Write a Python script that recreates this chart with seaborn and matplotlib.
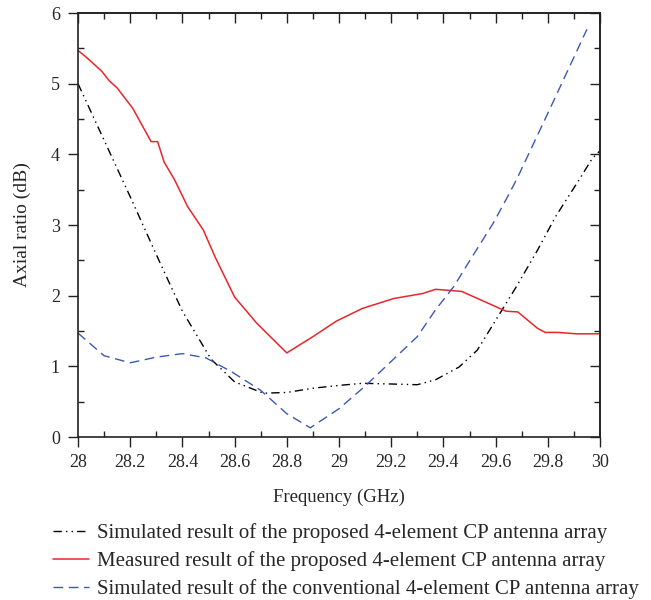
import matplotlib
matplotlib.use("Agg")
import matplotlib.pyplot as plt
from matplotlib.ticker import MultipleLocator, NullFormatter
import pandas as pd
import seaborn as sns

# Simulated axial ratio, proposed 4-element CP array
freq_sim_prop = [28.0, 28.1, 28.2, 28.31, 28.4, 28.51, 28.6, 28.71, 28.8, 28.9, 29.0,
                 29.09, 29.2, 29.3, 29.37, 29.46, 29.53, 29.6, 29.68, 29.76, 29.83,
                 29.92, 29.97, 30.0]
ar_sim_prop = [5.0, 4.2, 3.4, 2.5, 1.78, 1.1, 0.78, 0.62, 0.63, 0.69, 0.73,
               0.76, 0.75, 0.74, 0.81, 0.99, 1.23, 1.65, 2.13, 2.64, 3.12,
               3.64, 3.94, 4.05]

# Measured axial ratio, proposed 4-element CP array
freq_meas = [28.0, 28.03, 28.09, 28.12, 28.15, 28.21, 28.28, 28.305, 28.33, 28.37,
             28.42, 28.48, 28.525, 28.6, 28.685, 28.8, 28.9, 28.99, 29.09, 29.21,
             29.32, 29.37, 29.47, 29.64, 29.685, 29.76, 29.79, 29.84, 29.91, 30.0]
ar_meas = [5.47, 5.38, 5.18, 5.04, 4.94, 4.65, 4.18, 4.18, 3.89, 3.64,
           3.26, 2.93, 2.55, 1.98, 1.61, 1.19, 1.42, 1.64, 1.82, 1.96,
           2.03, 2.09, 2.06, 1.78, 1.77, 1.54, 1.48, 1.48, 1.46, 1.46]

# Simulated axial ratio, conventional 4-element CP array
freq_sim_conv = [28.0, 28.1, 28.2, 28.3, 28.4, 28.49, 28.59, 28.7, 28.8, 28.89,
                 29.0, 29.1, 29.2, 29.3, 29.37, 29.44, 29.51, 29.59, 29.64, 29.68,
                 29.8, 29.95]
ar_sim_conv = [1.47, 1.15, 1.05, 1.13, 1.18, 1.12, 0.92, 0.66, 0.33, 0.13,
               0.4, 0.72, 1.07, 1.42, 1.8, 2.13, 2.55, 3.02, 3.36, 3.64,
               4.58, 5.77]

x_ticks = [28.0, 28.2, 28.4, 28.6, 28.8, 29.0, 29.2, 29.4, 29.6, 29.8, 30.0]
x_tick_labels = ["28", "28.2", "28.4", "28.6", "28.8", "29", "29.2",
                 "29.4", "29.6", "29.8", "30"]

labels = [
    "Simulated result of the proposed 4-element CP antenna array",
    "Measured result of the proposed 4-element CP antenna array",
    "Simulated result of the conventional 4-element CP antenna array",
]

sns.set_style("ticks")
plt.rcParams["font.family"] = ["Liberation Serif", "DejaVu Serif"]

fig = plt.figure(figsize=(6.51, 6.0), dpi=100)
ax = fig.add_axes([78 / 651, 1 - 437 / 600, 522 / 651, 424 / 600])

df1 = pd.DataFrame({"f": freq_sim_prop, "ar": ar_sim_prop})
df2 = pd.DataFrame({"f": freq_meas, "ar": ar_meas})
df3 = pd.DataFrame({"f": freq_sim_conv, "ar": ar_sim_conv})

sns.lineplot(data=df1, x="f", y="ar", ax=ax, color="black", lw=1.0,
             label=labels[0], sort=False)
ax.lines[-1].set_dashes([6, 3, 1, 3, 1, 3])
sns.lineplot(data=df2, x="f", y="ar", ax=ax, color="#e8262a", lw=1.1,
             label=labels[1], sort=False)
sns.lineplot(data=df3, x="f", y="ar", ax=ax, color="#3a5bb5", lw=1.0,
             label=labels[2], sort=False)
ax.lines[-1].set_dashes([7, 4])

ax.set_xlim(28, 30)
ax.set_ylim(0, 6)
ax.set_xticks(x_ticks)
ax.set_xticklabels(x_tick_labels)
ax.xaxis.set_minor_locator(MultipleLocator(0.1))
ax.yaxis.set_major_locator(MultipleLocator(1))
ax.yaxis.set_minor_locator(MultipleLocator(0.5))

# bottom/left: major ticks outward, minor ticks inward
ax.tick_params(which="major", direction="out", length=7, width=1.0,
               color="#222222", labelsize=13, pad=5)
ax.tick_params(which="minor", direction="in", length=4, width=1.0,
               color="#222222")
ax.tick_params(axis="y", which="major", pad=6)

# top/right: all ticks point inward, no labels
top = ax.secondary_xaxis("top")
top.set_xticks(x_ticks)
top.xaxis.set_minor_locator(MultipleLocator(0.1))
top.xaxis.set_major_formatter(NullFormatter())
top.tick_params(which="major", direction="in", length=7, width=1.0, color="#222222")
top.tick_params(which="minor", direction="in", length=4, width=1.0, color="#222222")
right = ax.secondary_yaxis("right")
right.yaxis.set_major_locator(MultipleLocator(1))
right.yaxis.set_minor_locator(MultipleLocator(0.5))
right.yaxis.set_major_formatter(NullFormatter())
right.tick_params(which="major", direction="in", length=7, width=1.0, color="#222222")
right.tick_params(which="minor", direction="in", length=4, width=1.0, color="#222222")

for a in (ax, top, right):
    for s in a.spines.values():
        s.set_linewidth(1.2)
        s.set_color("#222222")

ax.set_xlabel("Frequency (GHz)", fontsize=13.5, labelpad=13)
ax.set_ylabel("Axial ratio (dB)", fontsize=14, labelpad=14)

handles, lbls = ax.get_legend_handles_labels()
ax.get_legend().remove()
fig.legend(handles, lbls, loc="upper left",
           bbox_to_anchor=(45 / 651, 1 - 515 / 600), frameon=False,
           fontsize=15, handlelength=1.7, handletextpad=0.4,
           labelspacing=0.38, borderaxespad=0)

fig.savefig("out.png", dpi=100)
